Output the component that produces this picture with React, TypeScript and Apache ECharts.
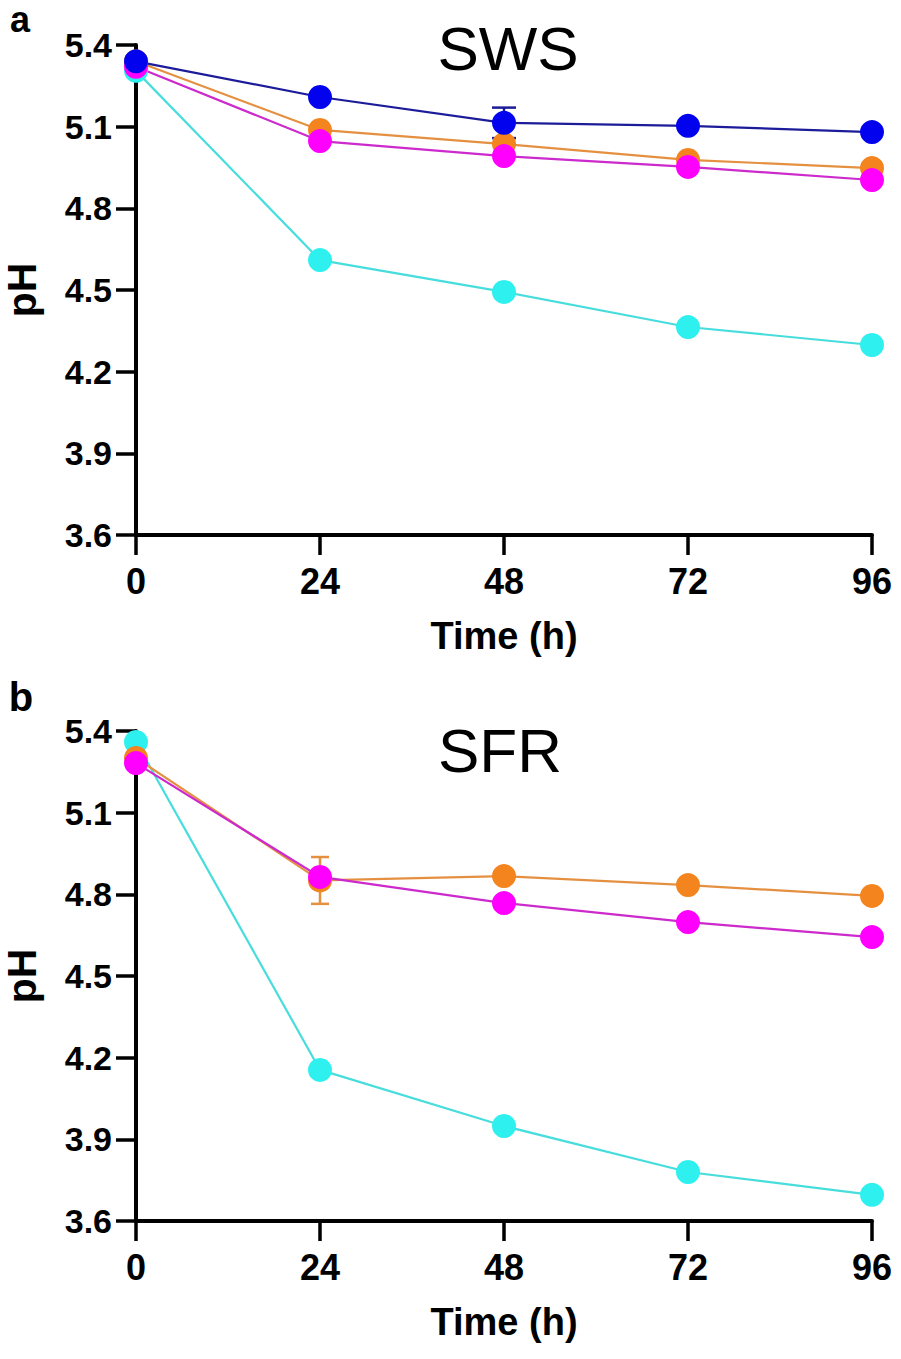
import React, { useEffect, useRef } from "react";
import * as echarts from "echarts";

const hours = [0, 24, 48, 72, 96];
const xTicks = [0, 24, 48, 72, 96];
const yTickLabels = ["3.6", "3.9", "4.2", "4.5", "4.8", "5.1", "5.4"];

// Panel a – SWS
const swsBlue = [5.34, 5.209, 5.114, 5.103, 5.08];
const swsOrange = [5.34, 5.088, 5.036, 4.978, 4.948];
const swsMagenta = [5.32, 5.047, 4.992, 4.952, 4.904];
const swsCyan = [5.305, 4.61, 4.493, 4.364, 4.298];
const swsBlueSD = [0, 0, 0.056, 0, 0];

// Panel b – SFR
const sfrOrange = [5.301, 4.851, 4.867, 4.834, 4.794];
const sfrMagenta = [5.282, 4.864, 4.768, 4.698, 4.643];
const sfrCyan = [5.36, 4.155, 3.949, 3.78, 3.696];
const sfrOrangeSD = [0, 0.086, 0, 0, 0];

const FONT = "'Liberation Sans', Arial, Helvetica, sans-serif";

const COLORS = {
  blue: { marker: "#0202EE", line: "#1C1C9A" },
  orange: { marker: "#F3841E", line: "#E59040" },
  magenta: { marker: "#FF00FF", line: "#CC2ACC" },
  cyan: { marker: "#2EF0EE", line: "#48DDDD" },
};

function lineSeries(name: string, values: number[], c: { marker: string; line: string }, idx: number) {
  return {
    name,
    type: "line",
    xAxisIndex: idx,
    yAxisIndex: idx,
    data: hours.map((h, i) => [h, values[i]]),
    symbol: "circle",
    symbolSize: 24,
    showSymbol: true,
    itemStyle: { color: c.marker, borderWidth: 0 },
    lineStyle: { color: c.line, width: 2.2 },
    clip: false,
    z: 3,
  };
}

function errorSeries(name: string, values: number[], sd: number[], color: string, cap: number, idx: number) {
  const data = hours
    .map((h, i) => [h, values[i], values[i] - sd[i], values[i] + sd[i]])
    .filter((d, i) => sd[i] > 0);
  return {
    name,
    type: "custom",
    xAxisIndex: idx,
    yAxisIndex: idx,
    data,
    z: 2,
    renderItem: (params: any, api: any) => {
      const x = api.value(0);
      const lo = api.coord([x, api.value(2)]);
      const hi = api.coord([x, api.value(3)]);
      const style = { stroke: color, lineWidth: 2.5 };
      return {
        type: "group",
        children: [
          { type: "line", shape: { x1: lo[0], y1: lo[1], x2: hi[0], y2: hi[1] }, style },
          { type: "line", shape: { x1: hi[0] - cap / 2, y1: hi[1], x2: hi[0] + cap / 2, y2: hi[1] }, style },
          { type: "line", shape: { x1: lo[0] - cap / 2, y1: lo[1], x2: lo[0] + cap / 2, y2: lo[1] }, style },
        ],
      };
    },
  };
}

function xAxisCfg(idx: number) {
  return {
    type: "value",
    gridIndex: idx,
    min: xTicks[0],
    max: xTicks[xTicks.length - 1],
    interval: 24,
    name: "Time (h)",
    nameLocation: "middle",
    nameGap: 82,
    nameTextStyle: { fontFamily: FONT, fontWeight: "bold", fontSize: 38, color: "#000" },
    axisLine: { show: true, lineStyle: { color: "#000", width: 4 } },
    axisTick: { show: true, inside: false, length: 20, lineStyle: { color: "#000", width: 3.5 } },
    axisLabel: {
      show: true,
      margin: 28,
      fontFamily: FONT,
      fontWeight: "bold",
      fontSize: 36,
      color: "#000",
      formatter: (v: number) => String(v),
    },
    splitLine: { show: false },
  };
}

function yAxisCfg(idx: number) {
  return {
    type: "value",
    gridIndex: idx,
    min: 3.6,
    max: 5.4,
    interval: 0.3,
    name: "pH",
    nameLocation: "middle",
    nameRotate: 90,
    nameGap: 94,
    nameTextStyle: { fontFamily: FONT, fontWeight: "bold", fontSize: 41, color: "#000" },
    axisLine: { show: true, lineStyle: { color: "#000", width: 4 } },
    axisTick: { show: true, inside: false, length: 20, lineStyle: { color: "#000", width: 3.5 } },
    axisLabel: {
      show: true,
      margin: 24,
      fontFamily: FONT,
      fontWeight: "bold",
      fontSize: 34,
      color: "#000",
      formatter: (v: number) => {
        const s = v.toFixed(1);
        return yTickLabels.includes(s) ? s : "";
      },
    },
    splitLine: { show: false },
  };
}

export default function App() {
  const ref = useRef<HTMLDivElement>(null);

  useEffect(() => {
    if (!ref.current) return;
    const chart = echarts.init(ref.current, null, { renderer: "svg" });
    const option: any = {
      animation: false,
      backgroundColor: "#ffffff",
      grid: [
        { left: 136, top: 45, width: 736, height: 490, containLabel: false, outerBoundsMode: "none" },
        { left: 136, top: 731, width: 736, height: 490, containLabel: false, outerBoundsMode: "none" },
      ],
      xAxis: [xAxisCfg(0), xAxisCfg(1)],
      yAxis: [yAxisCfg(0), yAxisCfg(1)],
      graphic: [
        { type: "text", x: 20, y: 1, style: { text: "a", fontFamily: FONT, fontWeight: "bold", fontSize: 36, lineHeight: 36, fill: "#000", align: "center", verticalAlign: "top" } },
        { type: "text", x: 21, y: 697, style: { text: "b", fontFamily: FONT, fontWeight: "bold", fontSize: 40, lineHeight: 40, fill: "#000", align: "center", verticalAlign: "middle" } },
        { type: "text", x: 508, y: 48, style: { text: "SWS", fontFamily: FONT, fontSize: 62, fill: "#000", align: "center", verticalAlign: "middle" } },
        { type: "text", x: 500, y: 750, style: { text: "SFR", fontFamily: FONT, fontSize: 62, fill: "#000", align: "center", verticalAlign: "middle" } },
      ],
      series: [
        errorSeries("SWS blue SD", swsBlue, swsBlueSD, COLORS.blue.line, 24, 0),
        lineSeries("SWS cyan", swsCyan, COLORS.cyan, 0),
        lineSeries("SWS orange", swsOrange, COLORS.orange, 0),
        lineSeries("SWS magenta", swsMagenta, COLORS.magenta, 0),
        lineSeries("SWS blue", swsBlue, COLORS.blue, 0),
        errorSeries("SFR orange SD", sfrOrange, sfrOrangeSD, COLORS.orange.line, 18, 1),
        lineSeries("SFR cyan", sfrCyan, COLORS.cyan, 1),
        lineSeries("SFR orange", sfrOrange, COLORS.orange, 1),
        lineSeries("SFR magenta", sfrMagenta, COLORS.magenta, 1),
      ],
    };
    chart.setOption(option);
    return () => chart.dispose();
  }, []);

  return (
    <div
      ref={ref}
      style={{ position: "absolute", left: 0, top: 0, width: 901, height: 1359, background: "#fff" }}
    />
  );
}
